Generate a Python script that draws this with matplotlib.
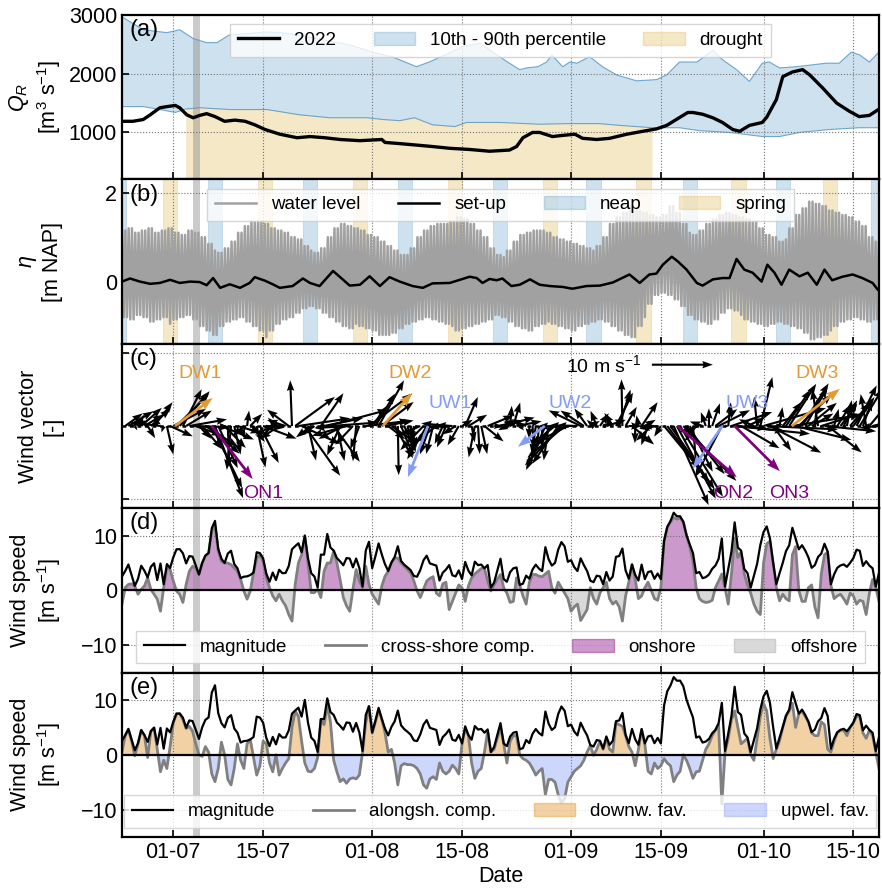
import numpy as np
import pandas as pd
import matplotlib
matplotlib.use('Agg')
import matplotlib.pyplot as plt
import matplotlib.dates as mdates
from matplotlib.patches import Patch
from matplotlib.lines import Line2D

plt.rcParams['font.family'] = ['Liberation Sans', 'DejaVu Sans']
plt.rcParams['font.size'] = 15.5
plt.rcParams['mathtext.fontset'] = 'custom'
plt.rcParams['mathtext.rm'] = 'Liberation Sans'
plt.rcParams['mathtext.it'] = 'Liberation Sans:italic'
plt.rcParams['mathtext.bf'] = 'Liberation Sans:bold'
LEG_FS = 13.5

T0 = pd.Timestamp('2022-06-23')   # all series are given in days after this date
T_END = 118.0

# --- (a) river discharge ---
q_days = [0, 1.7, 3.3, 4.4, 5.9, 7.0, 8.3, 9.0, 10.1, 11.1, 12.1, 13.2, 14.5, 16.0, 17.6, 19.2,
          20.7, 22.3, 24.6, 27.3, 29.3, 31.6, 34.0, 37.1, 40.5, 41.0, 43.3, 46.4, 48.4, 51.1,
          54.2, 57.3, 60.4, 61.5, 62.5, 64.0, 65.1, 67.1, 68.7, 70.6, 71.8, 74.0, 76.0, 78.7,
          81.2, 83.3, 84.9, 86.4, 88.2, 89.0, 90.5, 92.1, 93.6, 95.2, 96.3, 97.8, 99.8, 100.5,
          102.0, 103.0, 104.5, 106.1, 107.2, 109.2, 111.4, 113.4, 114.9, 116.5, 117.9]
q_2022 = [1190, 1190, 1220, 1300, 1420, 1440, 1460, 1420, 1300, 1250, 1290, 1320, 1270, 1190,
          1210, 1190, 1130, 1050, 970, 910, 930, 910, 880, 860, 880, 830, 810, 780, 760, 730,
          710, 680, 700, 760, 910, 1000, 1000, 930, 950, 970, 900, 880, 900, 970, 1020, 1060,
          1120, 1220, 1340, 1340, 1310, 1250, 1170, 1050, 1020, 1120, 1170, 1260, 1560, 1950,
          2030, 2070, 1980, 1760, 1500, 1360, 1270, 1290, 1390]

p90_days = [0, 3.3, 7.0, 9.0, 11.1, 13.2, 14.8, 16.7, 22.4, 24.9, 28.0, 35.5, 39.7, 42.1, 45.9,
            47.9, 53.1, 55.8, 60.1, 62.0, 63.1, 64.8, 66.2, 67.0, 68.7, 69.8, 70.9, 72.9, 74.9,
            77.1, 80.2, 83.3, 84.9, 86.9, 89.6, 90.5, 92.1, 93.6, 95.8, 97.8, 99.8, 100.9,
            102.5, 105.1, 109.8, 111.8, 113.7, 115.0, 116.5, 118.0]
p90 = [2970, 2750, 2700, 2750, 2600, 2530, 2530, 2660, 2710, 2700, 2650, 2490, 2350, 2290, 2120,
       2200, 2460, 2520, 2200, 2070, 2100, 2120, 2200, 2320, 2120, 2200, 2180, 2290, 2120,
       1980, 1880, 1900, 1980, 2200, 2200, 2270, 2400, 2240, 2070, 1870, 2180, 2200,
       2100, 2120, 2180, 2180, 2370, 2320, 2200, 2370]

p10_days = [0, 3.3, 5.9, 8.3, 10.0, 12.1, 16.8, 22.6, 27.7, 32.4, 38.2, 40.7, 43.3, 45.6, 48.4,
            51.9, 53.7, 58.9, 65.1, 69.8, 74.4, 77.6, 82.7, 86.9, 90.0, 94.7, 99.8, 102.5,
            105.6, 110.3, 114.9, 118.0]
p10 = [1440, 1440, 1390, 1340, 1400, 1420, 1390, 1390, 1300, 1250, 1250, 1220, 1200, 1250, 1130,
       1100, 1170, 1170, 1140, 1150, 1150, 1120, 1080, 1080, 1030, 1000, 930, 930,
       1000, 1050, 1080, 1080]

drought_period = (10.0, 82.7)

# --- (b) water level ---
# daily high and low water [m NAP]
hw_daily = [1.15, 1.2, 1.1, 1.15, 1.2, 1.1, 1.15, 1.2, 1.1, 1.05, 1.15, 1.1,
            1.0, 0.85, 0.7, 0.65, 0.75, 0.9,
            1.1, 1.25, 1.35, 1.35, 1.3,
            1.2, 1.15, 1.1, 1.0, 0.95,
            0.8, 0.7, 0.65, 0.75,
            1.0, 1.2, 1.3, 1.25, 1.2, 1.15, 1.05,
            1.0, 0.9, 0.8, 0.7, 0.6, 0.6, 0.75,
            1.0, 1.15, 1.25, 1.3, 1.3, 1.35,
            1.45, 1.4, 1.3, 1.15, 1.0,
            0.75, 0.6, 0.55, 0.7,
            0.9, 1.05, 1.1, 1.15, 1.15, 1.1, 1.0, 0.95, 0.9,
            0.85, 0.8, 0.75, 0.7, 0.8, 1.0,
            1.3, 1.45, 1.55, 1.7, 1.6, 1.55, 1.5, 1.45, 1.5,
            1.7, 1.55, 1.3, 1.1, 1.05, 1.15,
            1.3, 1.4, 1.5, 1.55, 1.5, 1.45, 1.4, 1.35, 1.2,
            1.05, 1.0, 0.9, 0.95, 1.2,
            1.5, 1.65, 1.8, 1.75, 1.7, 1.6, 1.55, 1.5, 1.45, 1.35, 1.25,
            1.0, 0.9, 0.9]
lw_daily = [-0.8, -0.85, -0.75, -0.8, -0.9, -0.85, -0.8, -0.95, -0.85, -0.8, -0.75, -0.85,
            -1.0, -1.1, -1.2, -1.0, -0.9, -0.85,
            -0.8, -0.9, -1.0, -1.1, -1.25,
            -1.1, -0.95, -0.85, -0.8, -0.7,
            -0.6, -0.55, -0.6, -0.7,
            -0.8, -0.9, -1.0, -1.05, -0.95, -1.0, -1.05,
            -1.1, -1.2, -1.2, -1.15, -1.05, -0.95, -0.9,
            -0.85, -0.8, -0.85, -0.9, -0.95, -1.0,
            -1.1, -1.05, -1.0, -0.95, -0.9,
            -0.85, -0.75, -0.8, -0.9,
            -1.0, -1.05, -1.1, -1.0, -0.95, -0.9, -0.95, -1.0, -1.05,
            -1.1, -1.0, -0.95, -0.9, -0.85, -0.9,
            -1.0, -1.1, -1.2, -1.25, -1.0, -0.8, -0.5, -0.3, -0.25,
            -0.3, -0.4, -0.55, -0.75, -0.85, -0.9,
            -0.95, -0.85, -0.7, -0.6, -0.65, -0.75, -0.85, -0.9, -0.95,
            -1.0, -0.95, -0.9, -0.95, -1.0,
            -1.05, -1.15, -1.3, -1.25, -1.2, -1.1, -1.0, -0.9, -0.85, -0.8, -0.85,
            -0.9, -0.85, -0.8]

setup_days = [0, 1.25, 2.8, 4.4, 5.9, 7.5, 9.0, 10.6, 12.1, 13.2, 14.2, 15.3, 16.8, 18.4, 19.9,
              20.7, 22.3, 23.5, 24.6, 26.6, 28.2, 29.3, 30.8, 32.9, 34.4, 35.5, 37.1, 38.6,
              40.2, 41.7, 43.3, 45.3, 46.9, 48.4, 51.1, 54.2, 55.3, 56.2, 57.3, 58.4, 59.3,
              60.7, 62.0, 63.6, 65.1, 66.7, 68.7, 70.2, 72.4, 74.5, 76.5, 79.1, 80.7, 82.2,
              83.3, 84.3, 85.7, 86.6, 88.0, 89.6, 90.5, 92.1, 93.6, 94.7, 95.8, 97.0, 98.3,
              99.7, 100.6, 101.7, 102.8, 104.0, 105.6, 106.9, 108.3, 109.5, 110.7, 112.3,
              113.9, 115.4, 117.0, 117.8]
setup = [0.0, 0.07, 0.0, -0.05, -0.03, 0.04, -0.03, 0.0, -0.01, -0.08, 0.08, -0.14, -0.06,
         -0.14, -0.03, 0.1, 0.02, -0.06, -0.14, -0.1, 0.07, -0.03, -0.1, 0.24, 0.05, -0.09,
         -0.07, 0.12, -0.1, 0.1, 0.0, -0.1, -0.14, -0.04, -0.03, 0.11, 0.08, -0.03, 0.06,
         0.03, 0.07, -0.1, -0.07, 0.05, -0.07, -0.1, -0.12, -0.16, -0.1, -0.09, -0.02, 0.16,
         -0.03, 0.16, 0.18, 0.38, 0.56, 0.46, 0.27, -0.03, -0.09, 0.05, 0.08, 0.08, 0.51,
         0.27, 0.2, 0.0, 0.38, 0.2, -0.07, 0.27, 0.12, 0.2, -0.07, 0.27, 0.03, 0.11, 0.16,
         0.08, -0.03, -0.18]

neap_start = [-1.6, 13.4, 28.2, 43.0, 57.8, 72.4, 87.4, 102.0, 116.8]
spring_start = [6.4, 21.2, 36.0, 50.8, 65.6, 80.2, 95.0, 109.3]
PHASE_LEN = 2.2

# --- (c)-(e) wind, every 12 h [m/s] ---
cross_shore = [-2.5, 0.5, 1.1, 1.2, 0.8, -0.7, 0.2, 0.8, 2.3, 0.2,
               -0.7, -1.6, -3.8, 0.5, 4.1, 3.8, 1.7, -0.1, -0.7, -2.2,
               1.1, 3.5, 4.4, 4.1, 2.9, 5.0, 6.2, 6.8, 10.8, 11.7,
               7.2, 5.3, 5.0, 5.0, 4.7, 4.1, 3.5, 2.0, -0.1, -1.6,
               -0.1, 3.2, 5.9, 6.5, 5.3, 2.3, 0.5, -1.0, -1.9, -0.7,
               -1.9, -2.8, -4.4, -5.6, 1.1, 5.0, 6.5, 9.9, 5.0, -0.4,
               -0.4, 0.2, -1.3, 3.5, 5.0, 5.0, 7.2, 5.0, 2.0, -1.3,
               -2.8, -3.8, 0.2, 3.8, 1.7, 0.5, 4.4, 1.1, -0.7, -1.6,
               -2.5, 0.8, 2.6, 3.5, 5.0, 5.9, 5.9, 5.0, 4.4, 3.8,
               3.2, 1.7, -0.1, -1.3, 0.2, 1.7, 2.2, 2.5, -0.5, -1.0,
               1.2, 1.5, -3.5, -2.0, -0.5, 1.0, 0.5, -2.0, 0.8, 2.3,
               3.0, 3.5, 4.0, 4.0, 1.7, -0.1, 1.0, 2.0, 2.9, 0.5,
               -0.5, -2.2, -2.0, 2.3, 1.0, -1.0, -2.5, 1.5, 2.9, 2.9,
               2.6, 2.5, 3.0, 3.5, 0.5, -0.5, 1.5, 0.5, -0.5, -1.5,
               -3.8, -3.0, -2.5, -5.5, -4.5, -3.5, 0.5, -1.5, -2.5, -0.5,
               0.5, 1.5, -1.5, -2.5, -2.0, -3.0, -5.6, -1.0, 1.5, 4.7,
               2.0, -1.5, -1.0, 0.5, 1.5, 0.0, -1.5, -1.8, 0.5, 9.0,
               11.5, 12.5, 13.3, 13.0, 13.2, 12.5, 10.0, 8.0, 5.3, 0.5,
               -1.5, -2.0, -2.2, -2.1, -1.8, 0.5, 1.7, 3.0, 0.5, -2.5,
               3.0, 9.5, 6.0, 7.0, 3.0, 1.0, -0.5, -2.5, -3.8, -4.4,
               5.0, 8.5, 9.0, 5.0, 0.5, -1.9, -0.7, -1.5, -1.9, 6.5,
               8.0, 0.0, -2.0, -2.0, 0.5, 1.0, -3.0, -5.0, 3.0, 6.5,
               7.0, 1.0, -1.5, -1.0, -0.7, -1.5, -2.5, -0.5, -1.0, -2.5,
               -1.8, -2.0, -4.4, -0.5, 2.0, 0.5, -2.0]
along_shore = [0.5, 3.5, 4.6, 2.5, -0.2, 2.0, 4.5, 3.5, -0.5, 4.3,
               4.9, 1.0, -3.1, -1.0, -2.5, 1.5, 5.8, 7.5, 7.5, 6.4,
               4.8, 5.2, 4.3, 2.0, 0.0, -0.3, 1.5, 0.5, -3.5, -4.9,
               -2.5, 2.3, 0.0, -4.5, -5.5, -2.5, 2.0, -1.0, -2.5, 2.0,
               2.8, -0.5, -3.7, -2.0, 2.5, 2.0, -1.5, -3.1, 0.0, -3.7,
               -2.5, -1.5, -0.7, 5.0, 8.0, 7.0, 2.5, -1.5, -3.0, -3.1,
               -2.5, -0.5, 6.4, 5.5, 9.0, 6.0, -1.0, -3.1, -4.9, -4.4,
               -5.2, -4.4, -4.2, -4.4, -3.7, 0.5, 5.8, 8.8, 4.0, 6.0,
               8.2, 6.5, 4.0, 0.5, 1.0, -1.5, -5.5, -2.0, -1.6, -1.8,
               -1.8, -2.0, -2.5, -3.5, -5.5, -6.1, -4.4, -4.0, -4.5, -1.5,
               -3.0, -3.5, -3.0, -1.9, -2.5, -3.5, 2.0, 4.8, 3.5, -1.5,
               -4.3, -3.0, -2.5, 0.5, 4.3, 0.5, 1.0, 3.0, 5.0, 2.0,
               -1.5, 2.5, 3.5, 3.5, 0.0, -0.7, -1.0, -1.5, -2.5, -3.7,
               -3.0, -2.5, -7.3, -4.5, -4.5, -5.0, -7.3, -8.8, -8.0, -5.0,
               -4.0, -3.0, -2.5, -2.0, -1.0, 0.5, 1.7, -0.1, 1.0, 2.5,
               1.0, 3.0, 1.0, 0.5, 5.8, 5.5, 5.2, 3.5, 1.5, 0.5,
               -2.0, 1.0, 4.6, 2.0, -3.0, -3.5, -1.5, -2.5, -2.0, -0.7,
               -1.5, -2.0, -4.9, -3.7, -3.0, 0.0, -1.0, -2.5, -4.3, -3.1,
               -3.0, -1.0, 1.0, 2.0, 3.5, 4.5, 5.5, -9.0, 0.5, 3.0,
               6.4, 8.0, 5.0, 2.0, 2.5, 3.0, 0.0, -1.0, 3.0, 7.0,
               9.4, 8.0, 3.0, -0.7, 1.0, 2.5, 5.0, 7.0, 8.0, 9.4,
               5.0, 7.5, 8.0, 7.0, 6.0, 4.0, 3.5, 3.5, 6.0, 5.5,
               1.0, 0.5, 2.5, 4.0, 4.5, 4.5, 3.5, 5.0, 5.8, 7.0,
               7.0, 4.0, 3.0, 4.5, 3.5, 0.5, -2.5]
COAST_ANGLE = np.deg2rad(44)   # alongshore direction, counter-clockwise from east

# highlighted wind events: start day, u, v [m/s]
event_names = ['DW1', 'DW2', 'DW3', 'UW1', 'UW2', 'UW3', 'ON1', 'ON2', 'ON3']
event_days = [8.26, 40.65, 104.4, 47.7, 65.9, 93.6, 14.0, 86.6, 95.5]
event_u = [6.2, 4.8, 7.9, -3.3, -4.4, -4.9, 6.7, 9.7, 7.4]
event_v = [4.6, 5.4, 6.1, -8.4, -3.4, -7.0, -8.7, -8.4, -7.4]
event_label_days = [12.1, 44.9, 108.3, 51.2, 69.8, 97.4, 22.0, 95.2, 104.0]
event_label_y = [0.71, 0.71, 0.71, 0.31, 0.31, 0.31, -0.92, -0.92, -0.92]

highlight = (11.05, 12.15)   # period shaded in every panel

DW_C = '#E39A35'
UW_C = '#849CF7'
ON_C = 'purple'
BLUE = '#1f77b4'
TAN = 'goldenrod'


def num(days):
    return mdates.date2num(T0 + pd.to_timedelta(np.asarray(days, dtype=float), unit='D'))


fig, axs = plt.subplots(5, 1, figsize=(8.82, 8.89), dpi=100, sharex=True)
fig.subplots_adjust(left=0.1383, right=0.9966, top=0.9831, bottom=0.0585, hspace=0)

for ax in axs:
    ax.axvspan(num(highlight[0]), num(highlight[1]), color='0.55', alpha=0.45, lw=0, zorder=1.5)
    ax.grid(True, ls=':', color='0.45', lw=0.8)
    ax.tick_params(direction='in', length=5, width=1.2)
    for s in ax.spines.values():
        s.set_linewidth(1.6)

leg_kw = dict(frameon=True, fancybox=False, edgecolor='0.8', framealpha=0.8,
              handlelength=2.2, fontsize=LEG_FS)

# (a)
ax = axs[0]
px = np.concatenate([num(p90_days), num(p10_days)[::-1]])
py = np.concatenate([p90, p10[::-1]])
ax.fill(px, py, facecolor=BLUE, alpha=0.22, lw=0, zorder=1)
ax.plot(num(p90_days), p90, color=BLUE, alpha=0.6, lw=0.8, zorder=1.2)
ax.plot(num(p10_days), p10, color=BLUE, alpha=0.6, lw=0.8, zorder=1.2)
p10_arr = np.array(p10, dtype=float)
p10_d = np.array(p10_days)
ax.fill_between(num(p10_days), 0, p10_arr,
                where=(p10_d >= drought_period[0]) & (p10_d <= drought_period[1]),
                facecolor=TAN, alpha=0.25, lw=0, zorder=1)
ax.plot(num(q_days), q_2022, color='k', lw=2.4, zorder=3)
ax.set_ylim(200, 3000)
ax.set_yticks([1000, 2000, 3000])
ax.set_ylabel('$Q_R$\n[m$^3$ s$^{-1}$]')
ax.legend(handles=[Line2D([], [], color='k', lw=2.4),
                   Patch(facecolor=BLUE, alpha=0.22, edgecolor=BLUE),
                   Patch(facecolor=TAN, alpha=0.25, edgecolor=TAN)],
          labels=['2022', '10th - 90th percentile', 'drought'],
          ncol=3, loc='upper center', bbox_to_anchor=(0.5, 1.0), **leg_kw)

# (b)
ax = axs[1]
for d in neap_start:
    ax.axvspan(num(d), num(d + PHASE_LEN), facecolor=BLUE, alpha=0.22, edgecolor=BLUE, lw=0.6, zorder=0.5)
for d in spring_start:
    ax.axvspan(num(d), num(d + PHASE_LEN), facecolor=TAN, alpha=0.25, edgecolor=TAN, lw=0.6, zorder=0.5)
half_tide = 12.42 / 24 / 2
tide_t = np.arange(0, T_END + half_tide, half_tide)
day_idx = np.minimum(tide_t.astype(int), len(hw_daily) - 1)
tide_v = np.where(np.arange(len(tide_t)) % 2 == 0,
                  np.array(hw_daily)[day_idx], np.array(lw_daily)[day_idx])
ax.plot(num(tide_t), tide_v, color='0.63', lw=1.8, zorder=2)
ax.plot(num(setup_days), setup, color='k', lw=1.8, zorder=3)
ax.set_ylim(-1.4, 2.3)
ax.set_yticks([0, 2])
ax.set_ylabel('$\\eta$\n[m NAP]')
ax.legend(handles=[Line2D([], [], color='0.63', lw=1.8), Line2D([], [], color='k', lw=1.8),
                   Patch(facecolor=BLUE, alpha=0.22, edgecolor=BLUE),
                   Patch(facecolor=TAN, alpha=0.25, edgecolor=TAN)],
          labels=['water level', 'set-up', 'neap', 'spring'],
          ncol=4, loc='upper center', bbox_to_anchor=(0.5, 1.0), **leg_kw)

# (c)
wind_days = np.arange(len(cross_shore)) * 0.5
cross = np.array(cross_shore)
along = np.array(along_shore)
magnitude = np.hypot(cross, along)
u = cross * np.sin(COAST_ANGLE) + along * np.cos(COAST_ANGLE)
v = -cross * np.cos(COAST_ANGLE) + along * np.sin(COAST_ANGLE)

ax = axs[2]
ax.axhline(0, color='k', ls=(0, (1.5, 1.5)), lw=1.8, zorder=2)
qv_kw = dict(angles='uv', scale_units='inches', scale=16.4, width=0.0028,
             headwidth=3.5, headlength=5, headaxislength=4.5, zorder=3)
q = ax.quiver(num(wind_days), np.zeros_like(u), u, v, color='k', **qv_kw)
ev_colors = {'DW': DW_C, 'UW': UW_C, 'ON': ON_C}
for name, d, eu, ev, ld, ly in zip(event_names, event_days, event_u, event_v,
                                   event_label_days, event_label_y):
    c = ev_colors[name[:2]]
    ax.quiver(num([d]), [0], [eu], [ev], color=c, **dict(qv_kw, zorder=4, width=0.0036))
    ax.text(num(ld), ly, name, color=c, ha='center', va='center', fontsize=14, zorder=5)
ax.quiverkey(q, X=0.70, Y=0.873, U=10, label='10 m s$^{-1}$', labelpos='W',
             coordinates='axes', fontproperties={'size': 14})
ax.set_ylim(-1.12, 1.12)
ax.set_yticks([-1, 1])
ax.set_yticklabels([])
ax.set_ylabel('Wind vector\n[-]')

# (d)
ax = axs[3]
wd = num(wind_days)
ax.fill_between(wd, 0, cross, where=cross > 0, interpolate=True, facecolor=ON_C, alpha=0.4, lw=0, zorder=1)
ax.fill_between(wd, 0, cross, where=cross < 0, interpolate=True, facecolor='0.85', lw=0, zorder=1)
ax.plot(wd, magnitude, color='k', lw=1.6, zorder=3)
ax.plot(wd, cross, color='0.5', lw=2.0, zorder=2.5)
ax.axhline(0, color='k', lw=1.6, zorder=3)
ax.set_ylim(-15, 15)
ax.set_yticks([-10, 0, 10])
ax.set_ylabel('Wind speed\n[m s$^{-1}$]')
ax.legend(handles=[Line2D([], [], color='k', lw=1.6), Line2D([], [], color='0.5', lw=2.0),
                   Patch(facecolor=ON_C, alpha=0.4, edgecolor=ON_C),
                   Patch(facecolor='0.85', edgecolor='0.8')],
          labels=['magnitude', 'cross-shore comp.', 'onshore', 'offshore'],
          ncol=4, loc='lower center', bbox_to_anchor=(0.5, 0.0), **leg_kw)

# (e)
ax = axs[4]
ax.fill_between(wd, 0, along, where=along > 0, interpolate=True, facecolor=DW_C, alpha=0.45, lw=0, zorder=1)
ax.fill_between(wd, 0, along, where=along < 0, interpolate=True, facecolor=UW_C, alpha=0.4, lw=0, zorder=1)
ax.plot(wd, magnitude, color='k', lw=1.6, zorder=3)
ax.plot(wd, along, color='0.5', lw=2.0, zorder=2.5)
ax.axhline(0, color='k', lw=1.6, zorder=3)
ax.set_ylim(-15, 15)
ax.set_yticks([-10, 0, 10])
ax.set_ylabel('Wind speed\n[m s$^{-1}$]')
ax.legend(handles=[Line2D([], [], color='k', lw=1.6), Line2D([], [], color='0.5', lw=2.0),
                   Patch(facecolor=DW_C, alpha=0.45, edgecolor=DW_C),
                   Patch(facecolor=UW_C, alpha=0.4, edgecolor=UW_C)],
          labels=['magnitude', 'alongsh. comp.', 'downw. fav.', 'upwel. fav.'],
          ncol=4, loc='lower center', bbox_to_anchor=(0.5, 0.0), **leg_kw)
ax.set_xlabel('Date', labelpad=2)

for ax, lab in zip(axs, 'abcde'):
    ax.text(0.01, 0.975, f'({lab})', transform=ax.transAxes, ha='left', va='top', fontsize=17, zorder=6)

axs[-1].xaxis.set_major_locator(mdates.DayLocator(bymonthday=[1, 15]))
axs[-1].xaxis.set_major_formatter(mdates.DateFormatter('%d-%m'))
axs[-1].set_xlim(num(0), num(T_END))
fig.align_ylabels(axs)

fig.savefig('out.png', dpi=100)
